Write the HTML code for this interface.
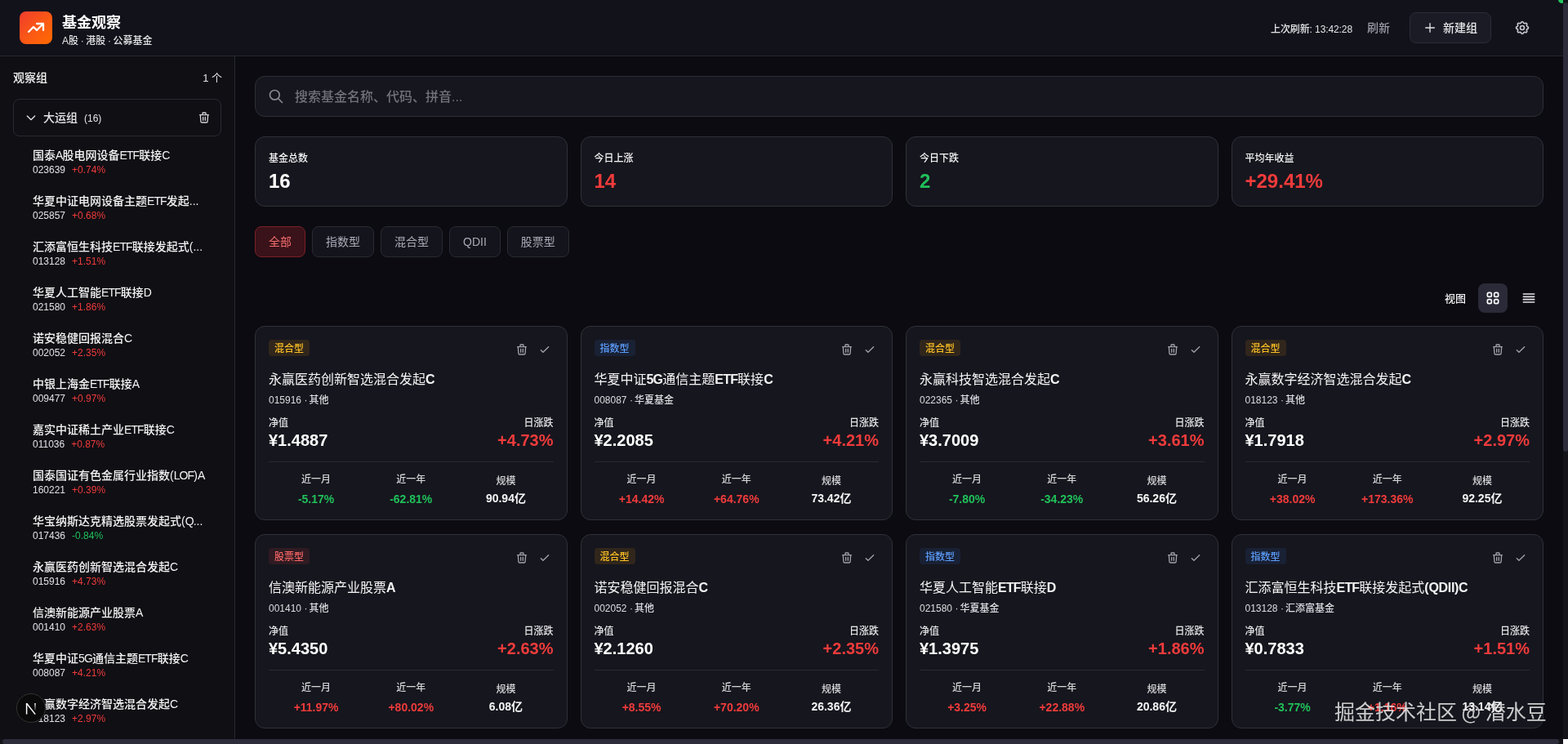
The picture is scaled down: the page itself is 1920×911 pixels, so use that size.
<!DOCTYPE html>
<html lang="zh-CN">
<head>
<meta charset="utf-8">
<title>基金观察</title>
<style>
*{box-sizing:border-box;margin:0;padding:0}
html,body{width:1920px;height:911px;overflow:hidden;background:#0b0b11}
body{font-family:"Liberation Sans","Noto Sans CJK SC",sans-serif;color:#e4e4e7;position:relative;-webkit-font-smoothing:antialiased;font-weight:500}
.hdr{position:absolute;left:0;top:0;width:1914px;height:69px;background:#12121b;border-bottom:1px solid #272730}
.logo{position:absolute;left:24px;top:14px;width:40px;height:40px;border-radius:8px;background:linear-gradient(135deg,#f03c2e 0%,#fb5a14 55%,#ff6a00 100%)}
.logo svg{position:absolute;left:8px;top:8px}
.ttl{position:absolute;left:76px;top:16px;font-size:18px;line-height:24px;font-weight:700;color:#fff}
.sub{position:absolute;left:76px;top:42px;font-size:12px;line-height:16px;color:#e4e4e7;font-weight:500;word-spacing:-0.7px}
.hr-time{position:absolute;left:1556px;top:28px;font-size:12px;line-height:16px;color:#e4e4e7;font-weight:500;letter-spacing:-0.1px}
.hr-ref{position:absolute;left:1674px;top:24px;font-size:14px;line-height:20px;color:#9a9aa6}
.btn-new{position:absolute;left:1726px;top:15px;width:100px;height:38px;border:1px solid #2c2c38;border-radius:8px;background:#1b1b25;font-size:14px;line-height:36px;color:#e4e4e7}
.btn-new svg{position:absolute;left:16px;top:10px}
.btn-new span{position:absolute;left:40px;top:0}
.gear{position:absolute;left:1854px;top:24px}

.side{position:absolute;left:0;top:69px;width:288px;height:836px;background:#0f0f14;border-right:1px solid #272730}
.side-h{position:absolute;left:16px;top:16px;width:255px;font-size:14px;line-height:20px;color:#f4f4f5;font-weight:500}
.side-h .cnt{position:absolute;right:-1px;top:1px;font-size:13px;color:#e4e4e7;font-weight:400}
.grp{position:absolute;left:16px;top:52px;width:255px;height:46px;border:1px solid #2a2a33;border-radius:8px}
.grp .chev{position:absolute;left:13px;top:14px}
.grp .nm{position:absolute;left:36px;top:12px;font-size:14px;line-height:20px;color:#e4e4e7}
.grp .nm small{font-size:12px;color:#e4e4e7;margin-left:8px}
.grp .del{position:absolute;right:12px;top:14px}
.list{position:absolute;left:40px;top:111px;width:220px}
.it{height:56px;white-space:nowrap}
.it .n{font-size:14px;line-height:20px;color:#f4f4f5;overflow:hidden;text-overflow:ellipsis}
.it .c{font-size:12px;line-height:16px;color:#e0e0e6}
.it .c b{font-weight:400;margin-left:8px}

.main{position:absolute;left:288px;top:69px;width:1626px;height:836px;padding:24px}
.search{position:absolute;left:24px;top:24px;width:1578px;height:50px;border:1px solid #2e2e38;border-radius:12px;background:#16161e}
.search svg{position:absolute;left:15px;top:14px}
.search span{position:absolute;left:48px;top:14px;font-size:16px;line-height:22px;color:#71717a}
.stats{position:absolute;left:24px;top:98px;width:1578px;display:flex;gap:16px}
.st{flex:1;height:86px;border:1px solid #30303a;border-radius:12px;background:#16161e;padding:18px 16px 0}
.st .l{font-size:12px;line-height:16px;color:#f4f4f5;font-weight:500}
.st .v{font-size:24px;line-height:32px;font-weight:700;margin-top:4px;color:#fff}
.red{color:#ef3b3b!important}.grn{color:#20c05a!important}
.filters{position:absolute;left:24px;top:208px;display:flex;gap:8px}
.fb{height:38px;padding:0 16px;border:1px solid #2a2a34;border-radius:8px;background:#14141c;font-size:14px;line-height:36px;color:#aaaab8;font-weight:400}
.fb.on{background:#3a1219;border-color:#7a2026;color:#f26d6d}
.view{position:absolute;left:0;top:278px;width:1626px;height:36px}
.view .lb{position:absolute;left:1481px;top:10px;font-size:13px;line-height:18px;color:#f4f4f5;font-weight:500;white-space:nowrap}
.view .g{position:absolute;left:1522px;top:0;width:36px;height:36px;border-radius:8px;background:#2a2a38}
.view .g svg{position:absolute;left:8px;top:8px}
.view .ls{position:absolute;left:1566px;top:0;width:36px;height:36px}
.view .ls svg{position:absolute;left:8px;top:8px}
.grid{position:absolute;left:24px;top:330px;width:1578px;display:grid;grid-template-columns:repeat(4,1fr);gap:17px 16px}
.card{height:238px;border:1px solid #30303a;border-radius:12px;background:#16161e;padding:16px;position:relative}
.bd{display:block;float:left;height:20px;margin-bottom:4px;padding:4px 7px 0;border-radius:4px;font-size:12px;line-height:15px}
.bd.mix{background:rgba(245,158,11,.12);color:#fbbf24}
.bd.idx{background:rgba(59,130,246,.11);color:#5b9bf8}
.bd.stk{background:rgba(239,68,68,.12);color:#f46464}
.ic{position:absolute;top:20px}
.ic.t{right:47px}.ic.k{right:19px}
.card .nm .la{font-weight:700;letter-spacing:-0.8px}
.card .nm .lq{letter-spacing:-0.3px}
.it .n .la{letter-spacing:-0.9px}
.card .nm{clear:both;padding-top:13px;font-size:16px;line-height:24px;font-weight:400;color:#f4f4f5;white-space:nowrap}
.card .cd i{font-style:normal;margin-left:2px}
.card .cd{margin-top:5px;font-size:12px;line-height:16px;color:#dcdce2}
.card .row{display:flex;justify-content:space-between;margin-top:12px}
.card .row .l{font-size:12px;line-height:16px;color:#e4e4e7}
.card .row .v{font-size:20px;line-height:28px;font-weight:700;color:#fff;margin-top:-1px;margin-bottom:1px}
.card .row .r{text-align:right}
.card .bot{display:flex;margin-top:11px;border-top:1px solid #2a2a34;padding-top:13px}
.card .bot>div{flex:1;text-align:center}
.card .bot .l{font-size:12px;line-height:16px;color:#d4d4d8}
.card .bot .v{font-size:14px;line-height:20px;font-weight:600;margin-top:6px;color:#f4f4f5}
.card .bot .sz .l{margin-top:2px}
.card .bot .sz .v{margin-top:3px}

.vsb{position:absolute;left:1914px;top:0;width:6px;height:905px;background:#131319}
.vsb i{position:absolute;left:0;top:3px;width:6px;height:550px;border-radius:3px;background:#2c2c3a}
.hsb{position:absolute;left:0;top:905px;width:1914px;height:6px;background:#131319}
.hsb i{position:absolute;left:3px;top:0;width:1906px;height:6px;border-radius:3px;background:#2c2c3a}
.gdot{position:absolute;left:1908px;top:-5px;width:9px;height:9px;border-radius:50%;background:#22c55e}
.corner{position:absolute;left:1914px;top:905px;width:6px;height:6px;background:#fff}
.next{position:absolute;left:20px;top:849px;width:36px;height:36px;border-radius:50%;background:#0a0a0a;border:1px solid #333}
.next svg{position:absolute;left:10px;top:10px}
.wm{position:absolute;left:1634px;top:853px;font-size:25px;line-height:34px;color:rgba(235,235,235,.85);font-family:"Noto Sans CJK SC",sans-serif;white-space:nowrap;font-weight:400}
</style>
</head>
<body>
<!-- HEADER -->
<div class="hdr">
  <div class="logo"><svg width="24" height="24" viewBox="0 0 24 24" fill="none" stroke="#fff" stroke-width="2.3" stroke-linecap="round" stroke-linejoin="round"><path d="M13 7h8m0 0v8m0-8l-8 8-4-4-6 6"/></svg></div>
  <div class="ttl">基金观察</div>
  <div class="sub">A股 · 港股 · 公募基金</div>
  <div class="hr-time">上次刷新: 13:42:28</div>
  <div class="hr-ref">刷新</div>
  <div class="btn-new"><svg width="16" height="16" viewBox="0 0 24 24" fill="none" stroke="#e4e4e7" stroke-width="2" stroke-linecap="round" stroke-linejoin="round"><path d="M12 4v16m8-8H4"/></svg><span>新建组</span></div>
  <svg class="gear" width="20" height="20" viewBox="0 0 24 24" fill="none" stroke="#c8c8d2" stroke-width="2" stroke-linecap="round" stroke-linejoin="round"><path d="M10.325 4.317c.426-1.756 2.924-1.756 3.35 0a1.724 1.724 0 002.573 1.066c1.543-.94 3.31.826 2.37 2.37a1.724 1.724 0 001.065 2.572c1.756.426 1.756 2.924 0 3.35a1.724 1.724 0 00-1.066 2.573c.94 1.543-.826 3.31-2.37 2.37a1.724 1.724 0 00-2.572 1.065c-.426 1.756-2.924 1.756-3.35 0a1.724 1.724 0 00-2.573-1.066c-1.543.94-3.31-.826-2.37-2.37a1.724 1.724 0 00-1.065-2.572c-1.756-.426-1.756-2.924 0-3.35a1.724 1.724 0 001.066-2.573c-.94-1.543.826-3.31 2.37-2.37.996.608 2.296.07 2.572-1.065z"/><path d="M15 12a3 3 0 11-6 0 3 3 0 016 0z"/></svg>
</div>

<!-- SIDEBAR -->
<div class="side">
  <div class="side-h">观察组<span class="cnt">1 个</span></div>
  <div class="grp">
    <svg class="chev" width="16" height="16" viewBox="0 0 24 24" fill="none" stroke="#e4e4e7" stroke-width="2" stroke-linecap="round" stroke-linejoin="round"><path d="M19 9l-7 7-7-7"/></svg>
    <div class="nm">大运组<small>(16)</small></div>
    <svg class="del" width="16" height="16" viewBox="0 0 24 24" fill="none" stroke="#d4d4d8" stroke-width="2" stroke-linecap="round" stroke-linejoin="round"><path d="M19 7l-.867 12.142A2 2 0 0116.138 21H7.862a2 2 0 01-1.995-1.858L5 7m5 4v6m4-6v6m1-10V4a1 1 0 00-1-1h-4a1 1 0 00-1 1v3M4 7h16"/></svg>
  </div>
  <div class="list">
    <div class="it"><div class="n">国泰<span class="la">A</span>股电网设备<span class="la">ETF</span>联接<span class="la">C</span></div><div class="c">023639<b class="red">+0.74%</b></div></div>
    <div class="it"><div class="n">华夏中证电网设备主题<span class="la">ETF</span>发起...</div><div class="c">025857<b class="red">+0.68%</b></div></div>
    <div class="it"><div class="n">汇添富恒生科技<span class="la">ETF</span>联接发起式(...</div><div class="c">013128<b class="red">+1.51%</b></div></div>
    <div class="it"><div class="n">华夏人工智能<span class="la">ETF</span>联接<span class="la">D</span></div><div class="c">021580<b class="red">+1.86%</b></div></div>
    <div class="it"><div class="n">诺安稳健回报混合<span class="la">C</span></div><div class="c">002052<b class="red">+2.35%</b></div></div>
    <div class="it"><div class="n">中银上海金<span class="la">ETF</span>联接<span class="la">A</span></div><div class="c">009477<b class="red">+0.97%</b></div></div>
    <div class="it"><div class="n">嘉实中证稀土产业<span class="la">ETF</span>联接<span class="la">C</span></div><div class="c">011036<b class="red">+0.87%</b></div></div>
    <div class="it"><div class="n">国泰国证有色金属行业指数(<span class="la">LOF</span>)<span class="la">A</span></div><div class="c">160221<b class="red">+0.39%</b></div></div>
    <div class="it"><div class="n">华宝纳斯达克精选股票发起式(<span class="la">Q</span>...</div><div class="c">017436<b class="grn">-0.84%</b></div></div>
    <div class="it"><div class="n">永赢医药创新智选混合发起<span class="la">C</span></div><div class="c">015916<b class="red">+4.73%</b></div></div>
    <div class="it"><div class="n">信澳新能源产业股票<span class="la">A</span></div><div class="c">001410<b class="red">+2.63%</b></div></div>
    <div class="it"><div class="n">华夏中证<span class="la">5G</span>通信主题<span class="la">ETF</span>联接<span class="la">C</span></div><div class="c">008087<b class="red">+4.21%</b></div></div>
    <div class="it"><div class="n">永赢数字经济智选混合发起<span class="la">C</span></div><div class="c">018123<b class="red">+2.97%</b></div></div>
  </div>
</div>

<!-- MAIN -->
<div class="main">
  <div class="search"><svg width="20" height="20" viewBox="0 0 24 24" fill="none" stroke="#8a8a96" stroke-width="2" stroke-linecap="round" stroke-linejoin="round"><path d="M21 21l-6-6m2-5a7 7 0 11-14 0 7 7 0 0114 0z"/></svg><span>搜索基金名称、代码、拼音...</span></div>
  <div class="stats">
    <div class="st"><div class="l">基金总数</div><div class="v">16</div></div>
    <div class="st"><div class="l">今日上涨</div><div class="v red">14</div></div>
    <div class="st"><div class="l">今日下跌</div><div class="v grn">2</div></div>
    <div class="st"><div class="l">平均年收益</div><div class="v red">+29.41%</div></div>
  </div>
  <div class="filters">
    <div class="fb on">全部</div><div class="fb">指数型</div><div class="fb">混合型</div><div class="fb">QDII</div><div class="fb">股票型</div>
  </div>
  <div class="view">
    <div class="lb">视图</div>
    <div class="g"><svg width="20" height="20" viewBox="0 0 24 24" fill="none" stroke="#fff" stroke-width="2" stroke-linecap="round" stroke-linejoin="round"><path d="M4 6a2 2 0 012-2h2a2 2 0 012 2v2a2 2 0 01-2 2H6a2 2 0 01-2-2V6zM14 6a2 2 0 012-2h2a2 2 0 012 2v2a2 2 0 01-2 2h-2a2 2 0 01-2-2V6zM4 16a2 2 0 012-2h2a2 2 0 012 2v2a2 2 0 01-2 2H6a2 2 0 01-2-2v-2zM14 16a2 2 0 012-2h2a2 2 0 012 2v2a2 2 0 01-2 2h-2a2 2 0 01-2-2v-2z"/></svg></div>
    <div class="ls"><svg width="20" height="20" viewBox="0 0 24 24" fill="none" stroke="#e4e4e7" stroke-width="2" stroke-linecap="round" stroke-linejoin="round"><path d="M4 6h16M4 10h16M4 14h16M4 18h16"/></svg></div>
  </div>
  <div class="grid" id="grid">
    <div class="card"><span class="bd mix">混合型</span><svg class="ic t" width="16" height="16" viewBox="0 0 24 24" fill="none" stroke="#a1a1aa" stroke-width="2" stroke-linecap="round" stroke-linejoin="round"><path d="M19 7l-.867 12.142A2 2 0 0116.138 21H7.862a2 2 0 01-1.995-1.858L5 7m5 4v6m4-6v6m1-10V4a1 1 0 00-1-1h-4a1 1 0 00-1 1v3M4 7h16"/></svg><svg class="ic k" width="16" height="16" viewBox="0 0 24 24" fill="none" stroke="#a1a1aa" stroke-width="2" stroke-linecap="round" stroke-linejoin="round"><path d="M5 13l4 4L19 7"/></svg>
      <div class="nm">永赢医药创新智选混合发起<span class="la">C</span></div><div class="cd">015916 ·<i>其他</i></div>
      <div class="row"><div><div class="l">净值</div><div class="v">¥1.4887</div></div><div class="r"><div class="l">日涨跌</div><div class="v red">+4.73%</div></div></div>
      <div class="bot"><div><div class="l">近一月</div><div class="v grn">-5.17%</div></div><div><div class="l">近一年</div><div class="v grn">-62.81%</div></div><div class="sz"><div class="l">规模</div><div class="v">90.94亿</div></div></div>
    </div>
    <div class="card"><span class="bd idx">指数型</span><svg class="ic t" width="16" height="16" viewBox="0 0 24 24" fill="none" stroke="#a1a1aa" stroke-width="2" stroke-linecap="round" stroke-linejoin="round"><path d="M19 7l-.867 12.142A2 2 0 0116.138 21H7.862a2 2 0 01-1.995-1.858L5 7m5 4v6m4-6v6m1-10V4a1 1 0 00-1-1h-4a1 1 0 00-1 1v3M4 7h16"/></svg><svg class="ic k" width="16" height="16" viewBox="0 0 24 24" fill="none" stroke="#a1a1aa" stroke-width="2" stroke-linecap="round" stroke-linejoin="round"><path d="M5 13l4 4L19 7"/></svg>
      <div class="nm">华夏中证<span class="la">5G</span>通信主题<span class="la">ETF</span>联接<span class="la">C</span></div><div class="cd">008087 ·<i>华夏基金</i></div>
      <div class="row"><div><div class="l">净值</div><div class="v">¥2.2085</div></div><div class="r"><div class="l">日涨跌</div><div class="v red">+4.21%</div></div></div>
      <div class="bot"><div><div class="l">近一月</div><div class="v red">+14.42%</div></div><div><div class="l">近一年</div><div class="v red">+64.76%</div></div><div class="sz"><div class="l">规模</div><div class="v">73.42亿</div></div></div>
    </div>
    <div class="card"><span class="bd mix">混合型</span><svg class="ic t" width="16" height="16" viewBox="0 0 24 24" fill="none" stroke="#a1a1aa" stroke-width="2" stroke-linecap="round" stroke-linejoin="round"><path d="M19 7l-.867 12.142A2 2 0 0116.138 21H7.862a2 2 0 01-1.995-1.858L5 7m5 4v6m4-6v6m1-10V4a1 1 0 00-1-1h-4a1 1 0 00-1 1v3M4 7h16"/></svg><svg class="ic k" width="16" height="16" viewBox="0 0 24 24" fill="none" stroke="#a1a1aa" stroke-width="2" stroke-linecap="round" stroke-linejoin="round"><path d="M5 13l4 4L19 7"/></svg>
      <div class="nm">永赢科技智选混合发起<span class="la">C</span></div><div class="cd">022365 ·<i>其他</i></div>
      <div class="row"><div><div class="l">净值</div><div class="v">¥3.7009</div></div><div class="r"><div class="l">日涨跌</div><div class="v red">+3.61%</div></div></div>
      <div class="bot"><div><div class="l">近一月</div><div class="v grn">-7.80%</div></div><div><div class="l">近一年</div><div class="v grn">-34.23%</div></div><div class="sz"><div class="l">规模</div><div class="v">56.26亿</div></div></div>
    </div>
    <div class="card"><span class="bd mix">混合型</span><svg class="ic t" width="16" height="16" viewBox="0 0 24 24" fill="none" stroke="#a1a1aa" stroke-width="2" stroke-linecap="round" stroke-linejoin="round"><path d="M19 7l-.867 12.142A2 2 0 0116.138 21H7.862a2 2 0 01-1.995-1.858L5 7m5 4v6m4-6v6m1-10V4a1 1 0 00-1-1h-4a1 1 0 00-1 1v3M4 7h16"/></svg><svg class="ic k" width="16" height="16" viewBox="0 0 24 24" fill="none" stroke="#a1a1aa" stroke-width="2" stroke-linecap="round" stroke-linejoin="round"><path d="M5 13l4 4L19 7"/></svg>
      <div class="nm">永赢数字经济智选混合发起<span class="la">C</span></div><div class="cd">018123 ·<i>其他</i></div>
      <div class="row"><div><div class="l">净值</div><div class="v">¥1.7918</div></div><div class="r"><div class="l">日涨跌</div><div class="v red">+2.97%</div></div></div>
      <div class="bot"><div><div class="l">近一月</div><div class="v red">+38.02%</div></div><div><div class="l">近一年</div><div class="v red">+173.36%</div></div><div class="sz"><div class="l">规模</div><div class="v">92.25亿</div></div></div>
    </div>
    <div class="card"><span class="bd stk">股票型</span><svg class="ic t" width="16" height="16" viewBox="0 0 24 24" fill="none" stroke="#a1a1aa" stroke-width="2" stroke-linecap="round" stroke-linejoin="round"><path d="M19 7l-.867 12.142A2 2 0 0116.138 21H7.862a2 2 0 01-1.995-1.858L5 7m5 4v6m4-6v6m1-10V4a1 1 0 00-1-1h-4a1 1 0 00-1 1v3M4 7h16"/></svg><svg class="ic k" width="16" height="16" viewBox="0 0 24 24" fill="none" stroke="#a1a1aa" stroke-width="2" stroke-linecap="round" stroke-linejoin="round"><path d="M5 13l4 4L19 7"/></svg>
      <div class="nm">信澳新能源产业股票<span class="la">A</span></div><div class="cd">001410 ·<i>其他</i></div>
      <div class="row"><div><div class="l">净值</div><div class="v">¥5.4350</div></div><div class="r"><div class="l">日涨跌</div><div class="v red">+2.63%</div></div></div>
      <div class="bot"><div><div class="l">近一月</div><div class="v red">+11.97%</div></div><div><div class="l">近一年</div><div class="v red">+80.02%</div></div><div class="sz"><div class="l">规模</div><div class="v">6.08亿</div></div></div>
    </div>
    <div class="card"><span class="bd mix">混合型</span><svg class="ic t" width="16" height="16" viewBox="0 0 24 24" fill="none" stroke="#a1a1aa" stroke-width="2" stroke-linecap="round" stroke-linejoin="round"><path d="M19 7l-.867 12.142A2 2 0 0116.138 21H7.862a2 2 0 01-1.995-1.858L5 7m5 4v6m4-6v6m1-10V4a1 1 0 00-1-1h-4a1 1 0 00-1 1v3M4 7h16"/></svg><svg class="ic k" width="16" height="16" viewBox="0 0 24 24" fill="none" stroke="#a1a1aa" stroke-width="2" stroke-linecap="round" stroke-linejoin="round"><path d="M5 13l4 4L19 7"/></svg>
      <div class="nm">诺安稳健回报混合<span class="la">C</span></div><div class="cd">002052 ·<i>其他</i></div>
      <div class="row"><div><div class="l">净值</div><div class="v">¥2.1260</div></div><div class="r"><div class="l">日涨跌</div><div class="v red">+2.35%</div></div></div>
      <div class="bot"><div><div class="l">近一月</div><div class="v red">+8.55%</div></div><div><div class="l">近一年</div><div class="v red">+70.20%</div></div><div class="sz"><div class="l">规模</div><div class="v">26.36亿</div></div></div>
    </div>
    <div class="card"><span class="bd idx">指数型</span><svg class="ic t" width="16" height="16" viewBox="0 0 24 24" fill="none" stroke="#a1a1aa" stroke-width="2" stroke-linecap="round" stroke-linejoin="round"><path d="M19 7l-.867 12.142A2 2 0 0116.138 21H7.862a2 2 0 01-1.995-1.858L5 7m5 4v6m4-6v6m1-10V4a1 1 0 00-1-1h-4a1 1 0 00-1 1v3M4 7h16"/></svg><svg class="ic k" width="16" height="16" viewBox="0 0 24 24" fill="none" stroke="#a1a1aa" stroke-width="2" stroke-linecap="round" stroke-linejoin="round"><path d="M5 13l4 4L19 7"/></svg>
      <div class="nm">华夏人工智能<span class="la">ETF</span>联接<span class="la">D</span></div><div class="cd">021580 ·<i>华夏基金</i></div>
      <div class="row"><div><div class="l">净值</div><div class="v">¥1.3975</div></div><div class="r"><div class="l">日涨跌</div><div class="v red">+1.86%</div></div></div>
      <div class="bot"><div><div class="l">近一月</div><div class="v red">+3.25%</div></div><div><div class="l">近一年</div><div class="v red">+22.88%</div></div><div class="sz"><div class="l">规模</div><div class="v">20.86亿</div></div></div>
    </div>
    <div class="card"><span class="bd idx">指数型</span><svg class="ic t" width="16" height="16" viewBox="0 0 24 24" fill="none" stroke="#a1a1aa" stroke-width="2" stroke-linecap="round" stroke-linejoin="round"><path d="M19 7l-.867 12.142A2 2 0 0116.138 21H7.862a2 2 0 01-1.995-1.858L5 7m5 4v6m4-6v6m1-10V4a1 1 0 00-1-1h-4a1 1 0 00-1 1v3M4 7h16"/></svg><svg class="ic k" width="16" height="16" viewBox="0 0 24 24" fill="none" stroke="#a1a1aa" stroke-width="2" stroke-linecap="round" stroke-linejoin="round"><path d="M5 13l4 4L19 7"/></svg>
      <div class="nm">汇添富恒生科技<span class="la">ETF</span>联接发起式<span class="la lq">(QDII)C</span></div><div class="cd">013128 ·<i>汇添富基金</i></div>
      <div class="row"><div><div class="l">净值</div><div class="v">¥0.7833</div></div><div class="r"><div class="l">日涨跌</div><div class="v red">+1.51%</div></div></div>
      <div class="bot"><div><div class="l">近一月</div><div class="v grn">-3.77%</div></div><div><div class="l">近一年</div><div class="v red">+1.16%</div></div><div class="sz"><div class="l">规模</div><div class="v">13.14亿</div></div></div>
    </div>
  </div>
</div>

<div class="hsb"><i></i></div>
<div class="gdot"></div><div class="vsb"><i></i></div><div class="corner"></div>
<div class="next"><svg width="14" height="16" viewBox="0 0 14 16" fill="none"><defs><linearGradient id="ng" gradientUnits="userSpaceOnUse" x1="0" y1="1" x2="0" y2="11"><stop offset="0" stop-color="#fff"/><stop offset="1" stop-color="#fff" stop-opacity="0"/></linearGradient></defs><path d="M1.6 1v13.6" stroke="#fff" stroke-width="1.5"/><path d="M1.6 1.2l10.6 13.4" stroke="#fff" stroke-width="1.5"/><path d="M12 1v9" stroke="url(#ng)" stroke-width="1.5"/></svg></div>
<div class="wm">掘金技术社区 @ 潜水豆</div>
</body>
</html>
